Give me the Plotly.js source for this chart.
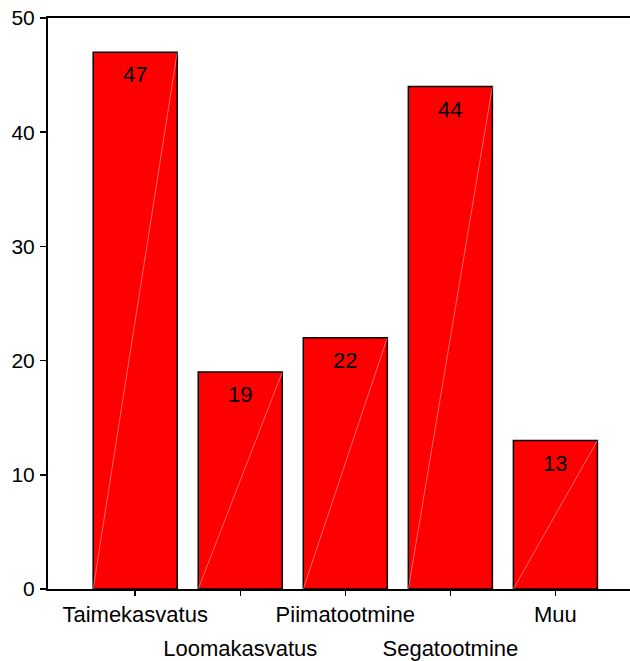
<!DOCTYPE html>
<html>
<head>
<meta charset="utf-8">
<script src="https://cdn.plot.ly/plotly-3.0.1.min.js"></script>
<style>html,body{margin:0;padding:0;background:#fff;}#chart{width:630px;height:661px;}</style>
</head>
<body>
<div id="chart"></div>
<script>
const categories = ["Taimekasvatus", "Loomakasvatus", "Piimatootmine", "Segatootmine", "Muu"];
const values = [47, 19, 22, 44, 13];
const yTicks = [0, 10, 20, 30, 40, 50];

const idx = categories.map((c, i) => i);
const evenIdx = idx.filter((i) => i % 2 === 0);
const oddIdx = idx.filter((i) => i % 2 === 1);
const barWidth = 0.8;
const font = "Liberation Sans, Arial, sans-serif";
const xRange = [-0.83, 4.71];

const traces = [{
  type: "bar",
  x: idx,
  y: values,
  width: barWidth,
  marker: {color: "#ff0000", line: {color: "#000000", width: 1.5}},
  hoverinfo: "skip",
  showlegend: false
}];

// faint diagonal highlight inside each bar
idx.forEach((i) => {
  traces.push({
    type: "scatter",
    mode: "lines",
    x: [i - barWidth / 2, i + barWidth / 2],
    y: [0, values[i]],
    xaxis: "x2",
    line: {color: "rgba(255,255,255,0.4)", width: 1},
    hoverinfo: "skip",
    showlegend: false
  });
});

const annotations = idx.map((i) => ({
  x: i,
  y: values[i],
  xref: "x",
  yref: "y",
  text: String(values[i]),
  showarrow: false,
  yanchor: "top",
  yshift: -8,
  font: {family: font, size: 22, color: "#000"}
}));

const layout = {
  width: 630,
  height: 661,
  margin: {l: 48, r: 0, t: 18, b: 72},
  paper_bgcolor: "#fff",
  plot_bgcolor: "#fff",
  showlegend: false,
  font: {family: font, color: "#000"},
  xaxis: {
    range: xRange,
    tickmode: "array",
    tickvals: idx,
    ticktext: idx.map((i) => i % 2 === 0 ? categories[i] : ""),
    tickangle: 0,
    ticks: "outside",
    ticklen: 5,
    tickwidth: 1.5,
    tickcolor: "#000",
    showline: true,
    linecolor: "#000",
    linewidth: 2,
    mirror: true,
    showgrid: false,
    zeroline: false,
    tickfont: {family: font, size: 22, color: "#000"},
    ticklabelstandoff: 0,
    fixedrange: true
  },
  xaxis2: {
    overlaying: "x",
    side: "bottom",
    anchor: "y",
    range: xRange,
    tickmode: "array",
    tickvals: oddIdx,
    ticktext: oddIdx.map((i) => categories[i]),
    tickangle: 0,
    ticks: "",
    showline: false,
    showgrid: false,
    zeroline: false,
    tickfont: {family: font, size: 22, color: "#000"},
    ticklabelstandoff: 44,
    fixedrange: true
  },
  yaxis: {
    range: [0, 50],
    tickmode: "array",
    tickvals: yTicks,
    ticktext: yTicks.map(String),
    ticks: "outside",
    ticklen: 6,
    tickwidth: 1.5,
    tickcolor: "#000",
    showline: true,
    linecolor: "#000",
    linewidth: 2,
    showgrid: false,
    zeroline: false,
    tickfont: {family: font, size: 21, color: "#000"},
    ticklabelstandoff: 1,
    fixedrange: true
  },
  annotations: annotations
};

Plotly.newPlot("chart", traces, layout, {displayModeBar: false, staticPlot: true});
</script>
</body>
</html>
